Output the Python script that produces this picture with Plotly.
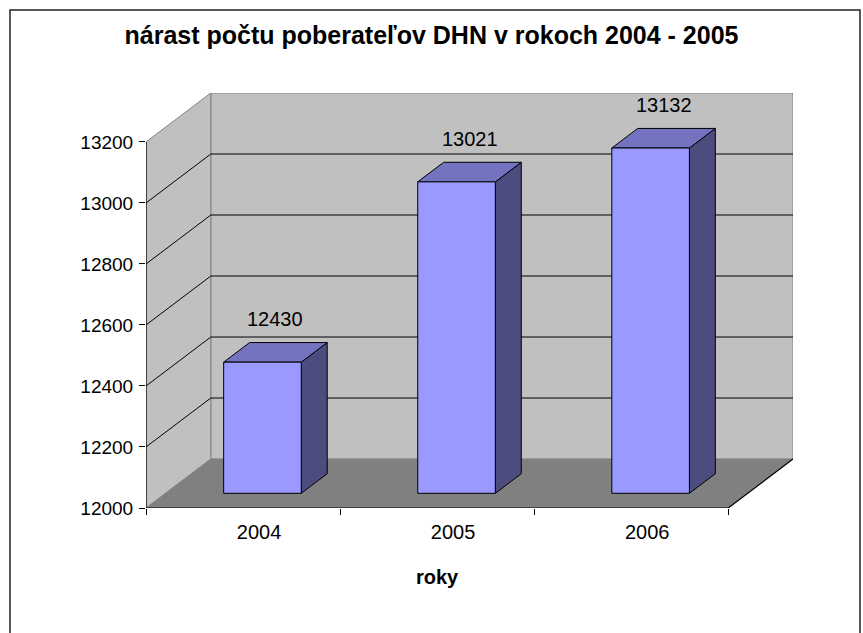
import plotly.graph_objects as go

# ---- data ----
years = ["2004", "2005", "2006"]
values = [12430, 13021, 13132]
y_ticks = [12000, 12200, 12400, 12600, 12800, 13000, 13200]
chart_title = "nárast počtu poberateľov DHN v rokoch 2004 - 2005"
x_title = "roky"

# ---- style / projection constants ----
Y0 = y_ticks[0]
YTOP = y_ticks[-1]
DX = 0.334      # oblique depth shift (category units)
DY = 160.5      # oblique depth shift (value units)
BAR_W = 0.4
D_FRONT, D_BACK = 0.3, 0.7
N = len(years)

WALL = "#C0C0C0"
FLOOR = "#808080"
EDGE = "#808080"
FRONT = "#9999FF"
TOP = "#7373BF"
SIDE = "#4C4C7F"
FONT = "Arial, Liberation Sans, sans-serif"

W, H = 863, 633
ML, MT = 146, 93
PR, PB = 793, 508
MR, MB = W - PR, H - PB
PW, PH = W - ML - MR, H - MT - MB

fig = go.Figure()


def poly(xs, ys, fill, line_color, width=1.0):
    fig.add_trace(go.Scatter(
        x=list(xs) + [xs[0]], y=list(ys) + [ys[0]], mode="lines",
        fill="toself", fillcolor=fill,
        line=dict(color=line_color, width=width),
        hoverinfo="skip", showlegend=False))


def lines(xs, ys, color, width=1.0):
    fig.add_trace(go.Scatter(x=xs, y=ys, mode="lines",
                             line=dict(color=color, width=width),
                             hoverinfo="skip", showlegend=False))


# back wall and side wall
poly([DX, N + DX, N + DX, DX], [Y0 + DY, Y0 + DY, YTOP + DY, YTOP + DY], WALL, EDGE)
poly([0, DX, DX, 0], [Y0, Y0 + DY, YTOP + DY, YTOP], WALL, EDGE)

# gridlines on walls
gx, gy = [], []
for v in y_ticks[1:-1]:
    gx += [0, DX, N + DX, None]
    gy += [v, v + DY, v + DY, None]
lines(gx, gy, "#000000", 1)

# floor
poly([0, N, N + DX, DX], [Y0, Y0, Y0 + DY, Y0 + DY], FLOOR, FLOOR, 0.5)
lines([0, N, N + DX], [Y0, Y0, Y0 + DY], "#000000", 1.2)

# axis line (value axis)
lines([0, 0], [Y0, YTOP], "#000000", 1.2)

# bars: 3D boxes (side, top, front faces)
base = Y0 + D_FRONT * DY
bdx = (D_BACK - D_FRONT) * DX
bdy = (D_BACK - D_FRONT) * DY
for i, v in enumerate(values):
    top = v + D_FRONT * DY
    xl = i + 0.5 + D_FRONT * DX - BAR_W / 2
    xr = xl + BAR_W
    poly([xr, xr, xr + bdx, xr + bdx], [base, top, top + bdy, base + bdy], SIDE, "#000000", 1)
    poly([xl, xr, xr + bdx, xl + bdx], [top, top, top + bdy, top + bdy], TOP, "#000000", 1)
    poly([xl, xr, xr, xl], [base, base, top, top], FRONT, "#000000", 1)

# data labels
for i, v in enumerate(values):
    fig.add_annotation(x=i + 0.5 + 0.5 * DX, y=v + 0.5 * DY, text=str(v),
                       showarrow=False, yshift=33, yanchor="middle",
                       font=dict(family=FONT, size=20, color="#000000"))

# x axis title
fig.add_annotation(x=N / 2, xref="x", y=0, yref="paper", yshift=-69,
                   yanchor="middle", text="<b>%s</b>" % x_title, showarrow=False,
                   font=dict(family=FONT, size=20, color="#000000"))


# outer frame
def px_x(p):
    return (p - ML) / PW


def px_y(p):
    return (PB - p) / PH


fig.add_shape(type="rect", xref="paper", yref="paper",
              x0=px_x(10), x1=px_x(860), y0=px_y(660), y1=px_y(10),
              line=dict(color="#222222", width=1.5), layer="below")

fig.update_layout(
    width=W, height=H, autosize=False,
    margin=dict(l=ML, r=MR, t=MT, b=MB, pad=0),
    paper_bgcolor="white", plot_bgcolor="rgba(0,0,0,0)",
    font=dict(family=FONT, color="#000000"),
    title=dict(text="<b>%s</b>" % chart_title, xref="container", x=0.5,
               xanchor="center", y=1 - 35 / H, yanchor="middle",
               font=dict(family=FONT, size=25, color="#000000")),
)
fig.update_xaxes(range=[0, N + DX], showgrid=False, zeroline=False, showline=False,
                 tickmode="array", tickvals=[i + 0.5 for i in range(N)], ticktext=years,
                 ticks="", ticklabelshift=16, ticklabelstandoff=10,
                 tickfont=dict(family=FONT, size=20, color="#000000"),
                 minor=dict(tickmode="array", tickvals=list(range(N + 1)),
                            ticks="outside", ticklen=6, tickcolor="#000000", tickwidth=1),
                 fixedrange=True)
fig.update_yaxes(range=[Y0, YTOP + DY], showgrid=False, zeroline=False, showline=False,
                 tickmode="array", tickvals=y_ticks, ticktext=[str(t) for t in y_ticks],
                 ticks="outside", ticklen=6, tickcolor="#000000", tickwidth=1,
                 ticklabelstandoff=2,
                 tickfont=dict(family=FONT, size=19, color="#000000"),
                 fixedrange=True)

fig.write_html(
    "out.html",
    config={"displayModeBar": False, "staticPlot": True},
    post_script="document.body.style.margin='0';document.body.style.overflow='hidden';",
)
